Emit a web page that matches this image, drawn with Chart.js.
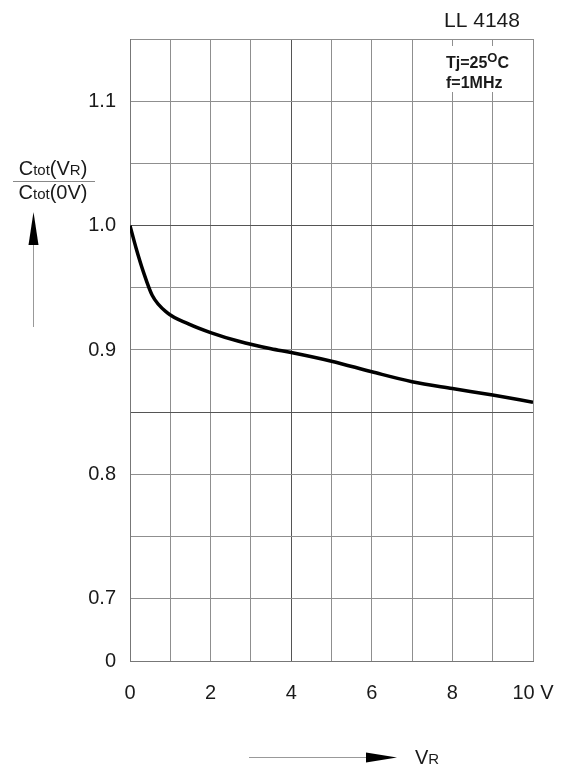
<!DOCTYPE html>
<html>
<head>
<meta charset="utf-8">
<script src="https://cdn.jsdelivr.net/npm/chart.js@4.4.1/dist/chart.umd.min.js"></script>
<style>
  html, body { margin: 0; padding: 0; background: #fff; }
  #wrap { position: relative; width: 571px; height: 767px; }
</style>
</head>
<body>
<div id="wrap"><canvas id="c" width="571" height="767"></canvas></div>
<script>
// Reverse voltage V_R (V)
const voltage = [0, 0.15, 0.33, 0.55, 0.92, 1.45, 2.0, 2.7, 3.5, 4.0, 5.0, 6.0, 7.0, 8.0, 9.0, 10.0];
// Ctot(VR)/Ctot(0V)
const capRatio = [1.0, 0.982, 0.963, 0.944, 0.930, 0.921, 0.914, 0.907, 0.901, 0.898, 0.891, 0.8825, 0.8745, 0.869, 0.8638, 0.858];
// Y tick labels (axis broken below 0.7: bottom edge labelled "0")
const yTickLabels = { 65: "0", 70: "0.7", 80: "0.8", 90: "0.9", 100: "1.0", 110: "1.1" };
const xTickLabels = { 0: "0", 2: "2", 4: "4", 6: "6", 8: "8", 10: "10 V" };
const titleText = "LL 4148";
const condText1 = ["Tj=25", "O", "C"];
const condText2 = "f=1MHz";

const FONT = "'Liberation Sans', Arial, sans-serif";
const TXT = "#1a1a1a";

function drawRich(ctx, segs, x, y, align) {
  let total = 0;
  segs.forEach(s => { ctx.font = (s[3] || "") + s[1] + "px " + FONT; total += ctx.measureText(s[0]).width; });
  let cx = align === "center" ? x - total / 2 : x;
  ctx.textBaseline = "alphabetic";
  ctx.textAlign = "left";
  segs.forEach(s => {
    ctx.font = (s[3] || "") + s[1] + "px " + FONT;
    ctx.fillText(s[0], cx, y + (s[2] || 0));
    cx += ctx.measureText(s[0]).width;
  });
  return total;
}

const annotations = {
  id: "annotations",
  afterDraw(chart) {
    const ctx = chart.ctx;
    ctx.save();
    ctx.fillStyle = TXT;
    // title
    ctx.font = "21px " + FONT;
    ctx.textAlign = "center";
    ctx.textBaseline = "middle";
    ctx.fillText(titleText, 482, 21);
    // condition box
    ctx.fillStyle = "#fff";
    ctx.fillRect(440, 46, 86, 46);
    ctx.fillStyle = TXT;
    drawRich(ctx, [[condText1[0], 16, 0, "bold "], [condText1[1], 13, -6, "bold "], [condText1[2], 16, 0, "bold "]], 446, 68, "left");
    drawRich(ctx, [[condText2, 16, 0, "bold "]], 446, 88, "left");
    // y-axis title (fraction)
    drawRich(ctx, [["C", 20], ["tot", 15], ["(V", 20], ["R", 15], [")", 20]], 53, 175, "center");
    ctx.strokeStyle = "#888";
    ctx.lineWidth = 1;
    ctx.beginPath(); ctx.moveTo(13, 181.5); ctx.lineTo(95, 181.5); ctx.stroke();
    drawRich(ctx, [["C", 20], ["tot", 15], ["(0V)", 20]], 53, 199, "center");
    // up arrow
    ctx.strokeStyle = "#999";
    ctx.beginPath(); ctx.moveTo(33.5, 240); ctx.lineTo(33.5, 327); ctx.stroke();
    ctx.fillStyle = "#000";
    ctx.beginPath(); ctx.moveTo(33.5, 212); ctx.lineTo(38.5, 245); ctx.lineTo(28.5, 245); ctx.closePath(); ctx.fill();
    // right arrow
    ctx.strokeStyle = "#999";
    ctx.beginPath(); ctx.moveTo(249, 757.5); ctx.lineTo(370, 757.5); ctx.stroke();
    ctx.beginPath(); ctx.moveTo(397, 757.5); ctx.lineTo(366, 752.5); ctx.lineTo(366, 762.5); ctx.closePath(); ctx.fill();
    ctx.fillStyle = TXT;
    drawRich(ctx, [["V", 20], ["R", 15]], 415, 764, "left");
    ctx.restore();
  }
};

const GRID = "#8f8f8f";
const GRID_DARK = "#555";

new Chart(document.getElementById("c"), {
  type: "line",
  data: {
    datasets: [{
      data: voltage.map((v, i) => ({ x: v, y: capRatio[i] })),
      borderColor: "#000",
      borderWidth: 3.5,
      pointRadius: 0,
      fill: false,
      cubicInterpolationMode: "monotone"
    }]
  },
  options: {
    responsive: false,
    animation: false,
    devicePixelRatio: 1,
    layout: { padding: { left: 0, top: 39, right: 38, bottom: 0 } },
    plugins: { legend: { display: false }, tooltip: { enabled: false } },
    scales: {
      x: {
        type: "linear",
        min: 0, max: 10,
        afterFit(s) { s.height = 106; s.paddingLeft = 0; s.paddingRight = 0; },
        ticks: {
          stepSize: 1,
          autoSkip: false,
          maxRotation: 0,
          padding: 20,
          color: TXT,
          font: { family: FONT, size: 20 },
          callback: v => (xTickLabels[Math.round(v)] !== undefined && Math.abs(v - Math.round(v)) < 1e-6) ? xTickLabels[Math.round(v)] : ""
        },
        grid: {
          drawTicks: false,
          color: c => (c.tick && Math.round(c.tick.value) === 4) ? GRID_DARK : GRID,
          lineWidth: 1
        },
        border: { display: true, color: "#777", width: 1 }
      },
      y: {
        type: "linear",
        min: 0.65, max: 1.15,
        afterFit(s) { s.width = 130; s.paddingTop = 0; s.paddingBottom = 0; },
        afterBuildTicks(s) {
          const t = [];
          for (let k = 65; k <= 115; k += 5) t.push({ value: k / 100 });
          s.ticks = t;
        },
        ticks: {
          autoSkip: false,
          padding: 14,
          color: TXT,
          font: { family: FONT, size: 20 },
          callback: v => { const k = Math.round(v * 100); return yTickLabels[k] !== undefined ? yTickLabels[k] : ""; }
        },
        grid: {
          drawTicks: false,
          color: c => { if (!c.tick) return GRID; const k = Math.round(c.tick.value * 100); return (k === 100 || k === 85) ? GRID_DARK : GRID; },
          lineWidth: 1
        },
        border: { display: true, color: "#777", width: 1 }
      }
    }
  },
  plugins: [annotations]
});
</script>
</body>
</html>
